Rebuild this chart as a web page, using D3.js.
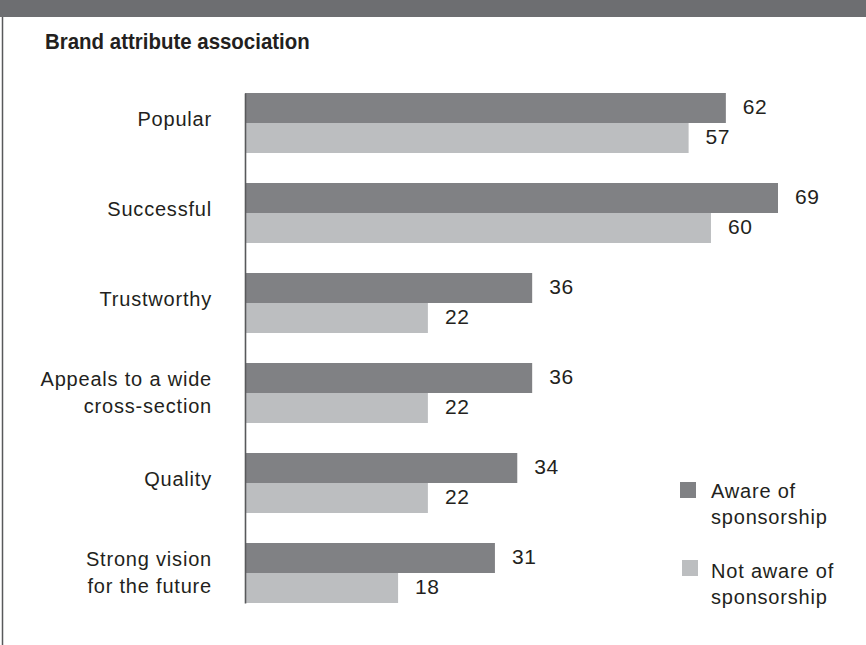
<!DOCTYPE html>
<html lang="en">
<head>
    <meta charset="UTF-8">
    <title>Brand attribute association</title>
    <script src="https://d3js.org/d3.v7.min.js"></script>
    <style>
        body { margin: 0; background: #fff; }
        svg text { font-family: "Liberation Sans", Arial, sans-serif; fill: #231f20; }
    </style>
</head>
<body>
    <svg width="866" height="645" id="chart"></svg>

    <script>
        // Data
        const categories = ["Popular", "Successful", "Trustworthy", "Appeals to a wide\ncross-section", "Quality", "Strong vision\nfor the future"];
        const series = ["Aware of sponsorship", "Not aware of sponsorship"];
        const aware = [62, 69, 36, 36, 34, 31];
        const notAware = [57, 60, 22, 22, 22, 18];
        const legendLabels = ["Aware of\nsponsorship", "Not aware of\nsponsorship"];

        // Colours
        const darkGrey = "#808184";
        const lightGrey = "#bcbec0";
        const headerGrey = "#6d6e71";

        const svg = d3.select("#chart");
        const axisX = 245;

        // Header bar and left frame line
        svg.append("rect").attr("x", 0).attr("y", 0).attr("width", 866).attr("height", 17).attr("fill", headerGrey);
        svg.append("line").attr("x1", 2.5).attr("x2", 2.5).attr("y1", 17).attr("y2", 645)
            .attr("stroke", "#58595b").attr("stroke-width", 1.5);

        // Title (condensed look via horizontal squeeze, no narrow font installed)
        svg.append("text")
            .attr("transform", "translate(45,49) scale(0.93,1)")
            .style("font-weight", "bold")
            .style("font-size", "22px")
            .text("Brand attribute association");

        // Scales
        const x = d3.scaleLinear().domain([0, 69]).range([264, 778]);
        const y0 = d3.scaleBand().domain(categories).range([93, 603]).paddingInner(1 / 3).paddingOuter(0);
        const y1 = d3.scaleBand().domain(series).range([0, y0.bandwidth()]);
        const colour = d3.scaleOrdinal().domain(series).range([darkGrey, lightGrey]);

        const rows = categories.map((c, i) => ({ cat: c, values: [
            { key: series[0], value: aware[i] },
            { key: series[1], value: notAware[i] }
        ]}));

        // Bars
        const groups = svg.append("g").selectAll("g").data(rows).join("g")
            .attr("transform", d => `translate(0,${y0(d.cat)})`);

        groups.selectAll("rect").data(d => d.values).join("rect")
            .attr("x", axisX)
            .attr("y", d => y1(d.key))
            .attr("width", d => x(d.value) - axisX)
            .attr("height", y1.bandwidth())
            .attr("fill", d => colour(d.key));

        // Value labels
        groups.selectAll("text.val").data(d => d.values).join("text")
            .attr("class", "val")
            .attr("x", d => x(d.value) + 17)
            .attr("y", d => y1(d.key) + y1.bandwidth() / 2 + 6)
            .style("font-size", "21px")
            .style("letter-spacing", "0.6px")
            .text(d => d.value);

        // Category axis
        const yAxis = svg.append("g")
            .attr("transform", `translate(${axisX},0)`)
            .call(d3.axisLeft(y0).tickSize(0).tickPadding(33).tickFormat(""));
        yAxis.select(".domain").attr("stroke", "#58595b").attr("stroke-width", 1.6);

        yAxis.selectAll(".tick").each(function (d) {
            const lines = d.split("\n");
            const t = d3.select(this).select("text")
                .attr("dy", null)
                .attr("y", 0)
                .style("font-size", "20px")
                .style("letter-spacing", "0.8px")
                .style("font-family", "'Liberation Sans', Arial, sans-serif")
                .attr("fill", "#231f20");
            const start = lines.length === 1 ? 0 : -9;
            lines.forEach((ln, i) => {
                t.append("tspan")
                    .attr("x", -33)
                    .attr("y", start + i * 27 + (lines.length === 1 ? 3 : 2))
                    .text(ln);
            });
        });

        // Legend
        const legend = svg.append("g").selectAll("g").data(series).join("g")
            .attr("transform", (d, i) => `translate(680,${482 + i * 78})`);
        legend.append("rect")
            .attr("x", (d, i) => i * 2).attr("y", 0)
            .attr("width", 16).attr("height", 16)
            .attr("fill", d => colour(d));
        legend.append("text")
            .attr("x", 31)
            .style("font-size", "20px")
            .style("letter-spacing", "0.8px")
            .each(function (d, i) {
                legendLabels[i].split("\n").forEach((ln, j) => {
                    d3.select(this).append("tspan").attr("x", 31).attr("y", 16 + j * 26 + (i ? 2 : 0)).text(ln);
                });
            });
    </script>
</body>
</html>
